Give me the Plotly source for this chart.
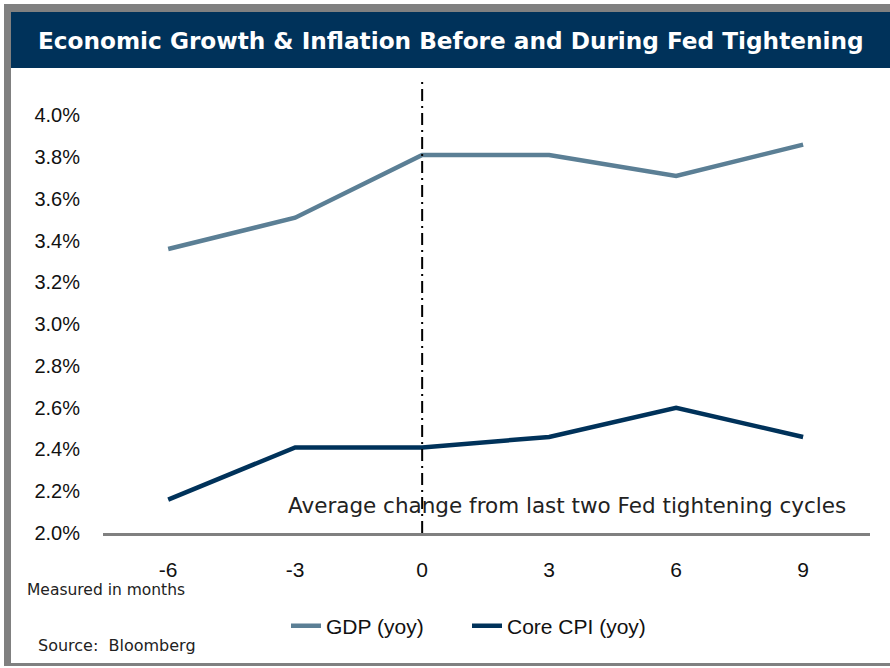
import plotly.graph_objects as go

months = [-6, -3, 0, 3, 6, 9]
tick_labels = ["-6", "-3", "0", "3", "6", "9"]
gdp = [3.36, 3.51, 3.81, 3.81, 3.71, 3.86]
core_cpi = [2.16, 2.41, 2.41, 2.46, 2.60, 2.46]
y_ticks = [2.0, 2.2, 2.4, 2.6, 2.8, 3.0, 3.2, 3.4, 3.6, 3.8, 4.0]
y_tick_labels = [f"{v:.1f}%" for v in y_ticks]

W, H = 890, 668
def px(x):
    return x / W
def py(y):
    return 1 - y / H

NAVY = "#00325A"
GDP_C = "#5B7F95"
GREY = "#808080"

fig = go.Figure()
fig.add_trace(go.Scatter(x=months, y=gdp, mode="lines", name="GDP (yoy)",
                         line=dict(color=GDP_C, width=4.5)))
fig.add_trace(go.Scatter(x=months, y=core_cpi, mode="lines", name="Core CPI (yoy)",
                         line=dict(color=NAVY, width=4.5)))

shapes = [
    # frame
    dict(type="rect", xref="paper", yref="paper", x0=px(4), x1=px(11), y0=py(666), y1=py(4),
         fillcolor=GREY, line=dict(width=0), layer="above"),
    dict(type="rect", xref="paper", yref="paper", x0=px(4), x1=1, y0=py(12), y1=py(4),
         fillcolor=GREY, line=dict(width=0), layer="above"),
    dict(type="rect", xref="paper", yref="paper", x0=px(4), x1=1, y0=py(666), y1=py(663),
         fillcolor=GREY, line=dict(width=0), layer="above"),
    # title bar
    dict(type="rect", xref="paper", yref="paper", x0=px(11), x1=1, y0=py(68), y1=py(12),
         fillcolor=NAVY, line=dict(width=0), layer="above"),
    # vertical dash-dot line at 0
    dict(type="line", xref="x", yref="y", x0=0, x1=0, y0=2.0, y1=4.16,
         line=dict(color="black", width=2, dash="12px,5px,2px,5px"), layer="above"),
]

annotations = [
    dict(text="<b>Economic Growth &amp; Inflation Before and During Fed Tightening</b>",
         xref="paper", yref="paper", x=px(451), y=py(40), xanchor="center", yanchor="middle",
         showarrow=False, font=dict(family="DejaVu Sans", size=23.2, color="white")),
    dict(text="Average change from last two Fed tightening cycles",
         xref="paper", yref="paper", x=px(567), y=py(505), xanchor="center", yanchor="middle",
         showarrow=False, font=dict(family="DejaVu Sans", size=21.5, color="#222222")),
    dict(text="Measured in months",
         xref="paper", yref="paper", x=px(25), y=py(590), xanchor="left", yanchor="middle",
         showarrow=False, font=dict(family="DejaVu Sans", size=15.5, color="#222222")),
    dict(text="Source:  Bloomberg",
         xref="paper", yref="paper", x=px(36), y=py(645), xanchor="left", yanchor="middle",
         showarrow=False, font=dict(family="DejaVu Sans", size=16, color="#222222")),
]

fig.update_layout(
    width=W, height=H,
    margin=dict(l=0, r=0, t=0, b=0, autoexpand=False),
    paper_bgcolor="white", plot_bgcolor="white",
    shapes=shapes, annotations=annotations,
    showlegend=True,
    legend=dict(orientation="h", x=px(286), y=py(626), xanchor="left", yanchor="middle",
                font=dict(family="Liberation Sans", size=21, color="#111111"),
                entrywidth=136, entrywidthmode="pixels",
                bgcolor="rgba(0,0,0,0)"),
    xaxis=dict(domain=[px(103), px(870)], range=[-7.54, 10.58], automargin=False,
               tickvals=months, ticktext=tick_labels,
               showgrid=False, zeroline=False, showline=True, linecolor=GREY, linewidth=2.5,
               ticks="", ticklabelstandoff=16,
               tickfont=dict(family="Liberation Sans", size=21, color="#111111")),
    yaxis=dict(domain=[py(533), py(82)], range=[2.0, 4.16], automargin=False,
               tickvals=y_ticks, ticktext=y_tick_labels,
               showgrid=False, zeroline=False, showline=False, ticks="",
               ticklabelstandoff=22,
               tickfont=dict(family="Liberation Sans", size=20, color="#111111")),
)

fig.write_html("out.html", config={"displayModeBar": False},
               post_script="document.body.style.margin='0';document.body.style.overflow='hidden';")
